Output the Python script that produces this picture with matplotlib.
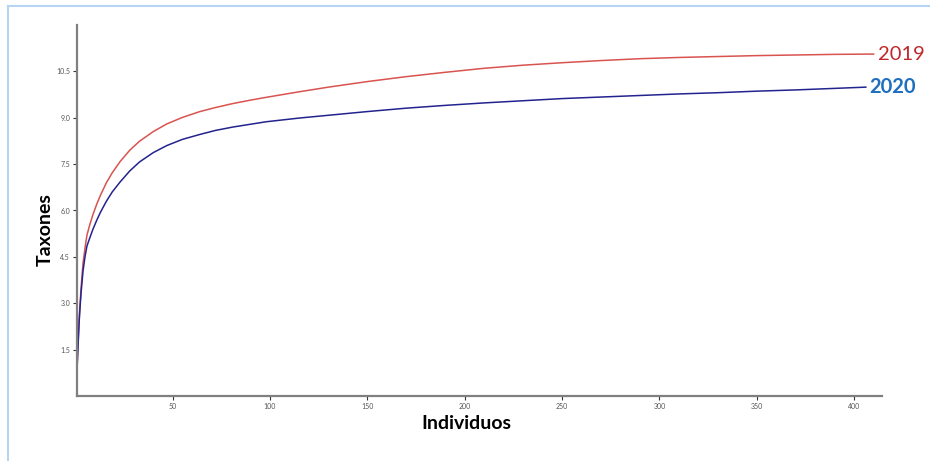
import matplotlib
matplotlib.use("Agg")
import matplotlib.pyplot as plt
import numpy as np

# valores (curvas de rarefaccion)
ind_2019 = [1, 1.5, 2, 2.5, 3, 4, 5, 6, 7.5, 9, 11, 13, 16, 19, 23, 28, 33, 40, 47, 55, 64, 72, 81,
            90, 98, 115, 130, 150, 170, 190, 210, 230, 250, 270, 290, 310, 330, 350, 370, 390, 410]
tax_2019 = [1.0, 1.8, 2.5, 3.0, 3.5, 4.3, 4.78, 5.2, 5.55, 5.85, 6.2, 6.5, 6.9, 7.22, 7.58, 7.95,
            8.24, 8.55, 8.8, 9.01, 9.2, 9.33, 9.46, 9.57, 9.66, 9.84, 9.99, 10.17, 10.33, 10.47,
            10.6, 10.7, 10.78, 10.85, 10.91, 10.95, 10.98, 11.01, 11.03, 11.05, 11.06]

ind_2020 = [1, 1.5, 2, 2.5, 3, 4, 5, 6, 7.5, 9, 11, 13, 16, 19, 23, 28, 33, 40, 47, 55, 64, 72, 81,
            90, 98, 115, 130, 150, 170, 190, 210, 230, 250, 270, 290, 310, 330, 350, 370, 390, 406]
tax_2020 = [1.0, 1.7, 2.4, 2.9, 3.35, 4.05, 4.5, 4.85, 5.12, 5.38, 5.68, 5.95, 6.3, 6.6, 6.92, 7.28,
            7.57, 7.87, 8.1, 8.3, 8.46, 8.59, 8.7, 8.79, 8.87, 8.99, 9.08, 9.2, 9.31, 9.4, 9.48,
            9.55, 9.62, 9.67, 9.72, 9.77, 9.81, 9.86, 9.9, 9.95, 9.99]

xticks = [50, 100, 150, 200, 250, 300, 350, 400]
yticks = [1.5, 3.0, 4.5, 6.0, 7.5, 9.0, 10.5]

plt.rcParams['font.family'] = ['Lato', 'DejaVu Sans']

fig = plt.figure(figsize=(9.3, 4.61), dpi=100)
ax = fig.add_axes([77/930, 65/461, 805/930, 371/461])

ax.plot(ind_2019, tax_2019, color='#d9534f', lw=1.1)
ax.plot(ind_2020, tax_2020, color='#23238f', lw=1.1)

ax.set_xlim(0.9, 414.3)
ax.set_ylim(0, 12)
ax.set_xticks(xticks)
ax.set_yticks(yticks)
ax.set_xticklabels([str(v) for v in xticks])
ax.set_yticklabels(['%.1f' % v for v in yticks])
ax.tick_params(labelsize=5, colors='#333333', length=3, width=0.8, pad=2, labelcolor='#555555')

for s in ['top', 'right']:
    ax.spines[s].set_visible(False)
for s in ['left', 'bottom']:
    ax.spines[s].set_color('#808080')
    ax.spines[s].set_linewidth(1.6)

# etiquetas de las curvas
ax.text(412, 11.06, '2019', color='#c0272d', fontsize=14.5, va='center', ha='left', clip_on=False)
ax.text(407.5, 9.99, '2020', color='#1f6fbf', fontsize=14.5, fontweight='bold', va='center',
        ha='left', clip_on=False)

fig.text(466/930, 1 - 423/461, 'Individuos', fontsize=14, fontweight='bold', ha='center', va='center')
fig.text(45/930, 1 - 230/461, 'Taxones', fontsize=14, fontweight='bold', ha='center', va='center',
         rotation=90)

# marco azul claro
fig.add_artist(plt.Line2D([8/930, 1], [1 - 6/461, 1 - 6/461], color='#b7d4f2', lw=1.5))
fig.add_artist(plt.Line2D([8/930, 8/930], [0, 1 - 6/461], color='#b7d4f2', lw=1.5))

fig.savefig('out.png', dpi=100)
